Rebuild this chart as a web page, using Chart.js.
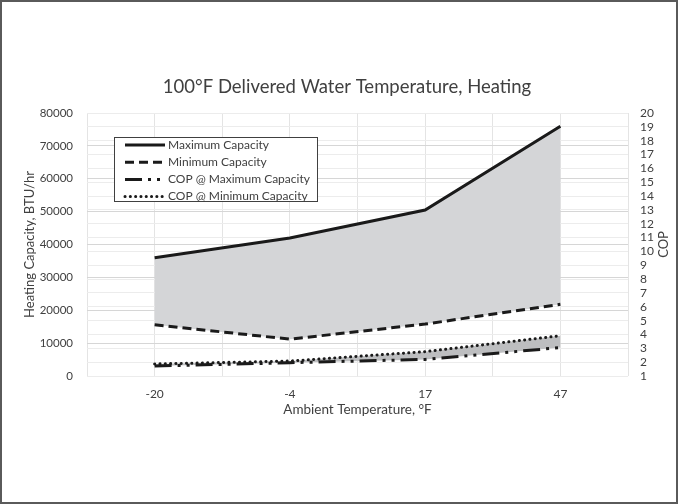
<!DOCTYPE html>
<html><head><meta charset="utf-8">
<script src="https://cdn.jsdelivr.net/npm/chart.js@4"></script>
<style>html,body{margin:0;padding:0;background:#fff}
canvas{display:block}</style></head>
<body><canvas id="c" width="678" height="504"></canvas>
<script>
const categories = ['-20', '-4', '17', '47'];
const maxCapacity = [36000, 42000, 50500, 76000];
const minCapacity = [15600, 11200, 15800, 21800];
const copAtMax = [1.72, 1.96, 2.2, 3.05];
const copAtMin = [1.87, 2.08, 2.76, 3.91];
const seriesNames = ['Maximum Capacity', 'Minimum Capacity', 'COP @ Maximum Capacity', 'COP @ Minimum Capacity'];
const chartTitle = '100°F Delivered Water Temperature, Heating';
const xTitle = 'Ambient Temperature, °F';
const yTitle = 'Heating Capacity, BTU/hr';
const y2Title = 'COP';

const FONT = 'Lato';
const TXT = '#404040';
const LINE = '#1a1a1a';

const dashes = [[], [9, 5], [17, 6, 3, 6, 3, 6], [0.1, 5.2]];
const caps = ['butt', 'butt', 'butt', 'round'];
const widths = [3, 3, 3, 3];

const extras = {
  id: 'extras',
  afterDraw(chart) {
    const ctx = chart.ctx;
    const ca = chart.chartArea;
    ctx.save();
    ctx.fillStyle = TXT;
    ctx.textAlign = 'center';
    ctx.textBaseline = 'middle';
    ctx.font = '18.5px ' + FONT;
    ctx.fillText(chartTitle, 347, 87);
    ctx.font = '13px ' + FONT;
    const midY = (ca.top + ca.bottom) / 2;
    ctx.save(); ctx.translate(30, midY); ctx.rotate(-Math.PI / 2); ctx.fillText(yTitle, 0, 0); ctx.restore();
    ctx.save(); ctx.translate(664, midY); ctx.rotate(-Math.PI / 2); ctx.fillText(y2Title, 0, 0); ctx.restore();
    ctx.font = '13.5px ' + FONT;
    ctx.fillText(xTitle, (ca.left + ca.right) / 2, 410);

    // legend
    const lx = 114, ly = 137, lw = 203, lh = 64;
    ctx.fillStyle = '#fff';
    ctx.fillRect(lx, ly, lw, lh);
    ctx.strokeStyle = '#404040';
    ctx.lineWidth = 1;
    ctx.strokeRect(lx + 0.5, ly + 0.5, lw, lh);
    ctx.font = '12px ' + FONT;
    ctx.textAlign = 'left';
    chart.data.datasets.forEach((ds, i) => {
      const ry = 145 + i * 17.2;
      ctx.beginPath();
      ctx.setLineDash(ds.borderDash || []);
      ctx.lineCap = ds.borderCapStyle || 'butt';
      ctx.lineWidth = ds.borderWidth;
      ctx.strokeStyle = ds.borderColor;
      ctx.moveTo(125, ry); ctx.lineTo(165, ry);
      ctx.stroke();
      ctx.setLineDash([]);
      ctx.fillStyle = TXT;
      ctx.fillText(ds.label, 168, ry);
    });

    // outer border
    ctx.strokeStyle = '#5a5a5a';
    ctx.lineWidth = 2;
    ctx.strokeRect(1, 1, 676, 502);
    ctx.restore();
  }
};

const makeDs = (i, data, axis, extra) => Object.assign({
  label: seriesNames[i], data, yAxisID: axis,
  borderColor: LINE, borderWidth: widths[i], borderDash: dashes[i], borderCapStyle: caps[i],
  pointRadius: 0, tension: 0, fill: false
}, extra || {});

new Chart(document.getElementById('c'), {
  type: 'line',
  data: {
    labels: categories,
    datasets: [
      makeDs(0, maxCapacity, 'y', { fill: '+1', backgroundColor: '#d4d5d7' }),
      makeDs(1, minCapacity, 'y'),
      makeDs(2, copAtMax, 'y2'),
      makeDs(3, copAtMin, 'y2', { fill: '-1', backgroundColor: '#bdbec0' })
    ]
  },
  options: {
    responsive: false,
    animation: false,
    devicePixelRatio: 1,
    layout: { padding: { top: 113, left: 0, right: 0, bottom: 0 } },
    plugins: {
      legend: { display: false },
      tooltip: { enabled: false },
      filler: { drawTime: 'beforeDatasetsDraw' },
      title: { display: false }
    },
    scales: {
      x: {
        type: 'category', offset: true, position: 'bottom',
        grid: { offset: false, color: '#e4e4e4', drawTicks: false },
        border: { display: false },
        ticks: { padding: 11, color: TXT, font: { family: FONT, size: 12 } },
        afterFit: s => { s.height = 128; }
      },
      x2: {
        type: 'category', offset: true, position: 'bottom',
        grid: { offset: true, color: '#e4e4e4', drawTicks: false },
        border: { display: false },
        ticks: { display: false },
        afterFit: s => { s.height = 0; }
      },
      y: {
        position: 'left', min: 0, max: 80000,
        ticks: { stepSize: 10000, padding: 14, color: TXT, font: { family: FONT, size: 11.5 }, callback: v => String(v) },
        grid: { color: '#d6d6d6', drawTicks: false },
        border: { display: false },
        afterFit: s => { s.width = 87; }
      },
      y2: {
        position: 'right', min: 1, max: 20,
        ticks: { stepSize: 1, autoSkip: false, padding: 12, color: TXT, font: { family: FONT, size: 12 } },
        grid: { color: '#ececec', drawTicks: false },
        border: { display: false },
        afterFit: s => { s.width = 50; }
      }
    }
  },
  plugins: [extras]
});
</script>
</body></html>
